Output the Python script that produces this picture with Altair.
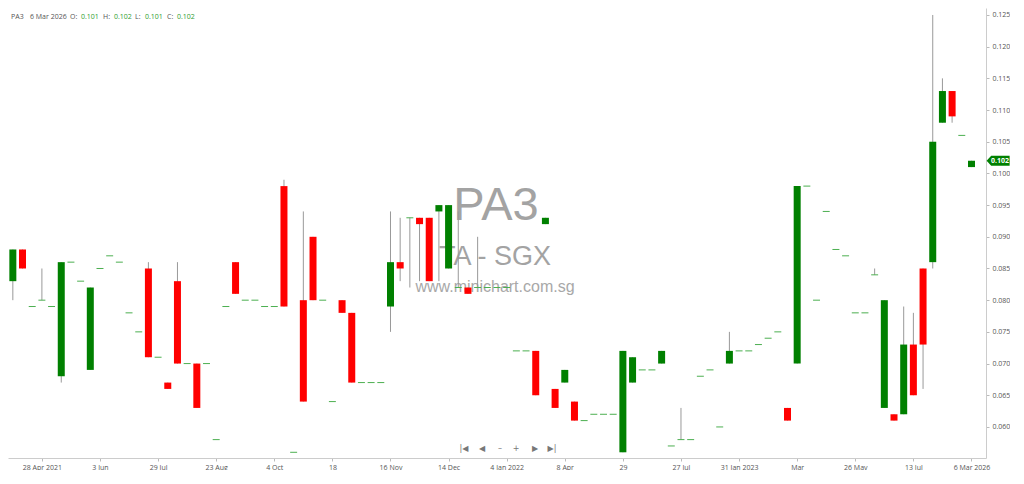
import altair as alt
import pandas as pd

# ---------------- data ----------------
opens = [
    .083, .088, .079, .080, .079, .068, .086, .083, .069, .085,
    .087, .086, .078, .075, .085, .071, .067, .083, .070, .070,
    .070, .058, .079, .086, .080, .080, .079, .079, .098, .056,
    .080, .090, .080, .064, .080, .078, .067, .067, .067, .079,
    .086, .093, .093, .093, .094, .085, .082, .082, .082, .082,
    .082, .082, .072, .072, .072, .092, .066, .067, .064, .061,
    .062, .062, .062, .056, .067, .069, .069, .070, .057, .058,
    .058, .068, .069, .060, .070, .072, .072, .073, .074, .075,
    .063, .070, .098, .080, .094, .088, .087, .078, .078, .084,
    .063, .062, .062, .073, .085, .086, .108, .113, .106, .101]
highs = [
    .088, .088, .079, .085, .079, .086, .086, .083, .082, .085,
    .087, .086, .078, .075, .086, .071, .067, .086, .070, .070,
    .070, .058, .079, .086, .080, .080, .079, .079, .099, .056,
    .094, .090, .080, .064, .080, .078, .067, .067, .067, .094,
    .093, .093, .093, .093, .095, .095, .094, .082, .090, .082,
    .082, .082, .072, .072, .072, .093, .066, .069, .064, .061,
    .062, .062, .062, .072, .071, .069, .069, .072, .057, .063,
    .058, .068, .069, .060, .075, .072, .072, .073, .074, .075,
    .063, .098, .098, .080, .094, .088, .087, .078, .078, .085,
    .080, .062, .079, .078, .085, .125, .115, .113, .106, .102]
lows = [
    .080, .085, .079, .080, .079, .067, .086, .083, .069, .085,
    .087, .086, .078, .075, .071, .071, .066, .070, .070, .063,
    .070, .058, .079, .081, .080, .080, .079, .079, .079, .056,
    .064, .080, .080, .064, .078, .067, .067, .067, .067, .075,
    .083, .082, .083, .083, .083, .085, .082, .081, .082, .082,
    .082, .082, .072, .072, .065, .092, .063, .067, .061, .061,
    .062, .062, .062, .056, .067, .069, .069, .070, .057, .058,
    .058, .068, .069, .060, .070, .072, .072, .073, .074, .075,
    .061, .070, .098, .080, .094, .088, .087, .078, .078, .084,
    .063, .061, .062, .065, .066, .085, .108, .108, .106, .101]
closes = [
    .088, .085, .079, .080, .079, .086, .086, .083, .082, .085,
    .087, .086, .078, .075, .071, .071, .066, .070, .070, .063,
    .070, .058, .079, .081, .080, .080, .079, .079, .079, .056,
    .064, .080, .080, .064, .078, .067, .067, .067, .067, .086,
    .085, .093, .092, .083, .095, .095, .082, .081, .082, .082,
    .082, .082, .072, .072, .065, .093, .063, .069, .061, .061,
    .062, .062, .062, .072, .071, .069, .069, .072, .057, .058,
    .058, .068, .069, .060, .072, .072, .072, .073, .074, .075,
    .061, .098, .098, .080, .094, .088, .087, .078, .078, .084,
    .080, .061, .073, .065, .073, .105, .113, .109, .106, .102]

tick_idx = [3, 9, 15, 21, 27, 33, 39, 45, 51, 57, 63, 69, 75, 81, 87, 93, 99]
tick_labels = ["28 Apr 2021", "3 Jun", "29 Jul", "23 Aug", "4 Oct", "18", "16 Nov",
               "14 Dec", "4 Jan 2022", "8 Apr", "29", "27 Jul", "31 Jan 2023",
               "Mar", "26 May", "13 Jul", "6 Mar 2026"]
y_ticks = [0.060, 0.065, 0.070, 0.075, 0.080, 0.085, 0.090, 0.095,
           0.100, 0.105, 0.110, 0.115, 0.120, 0.125]

symbol = "PA3"
last_date = "6 Mar 2026"

df = pd.DataFrame({"i": list(range(len(opens))), "open": opens, "high": highs,
                   "low": lows, "close": closes})

# ---------------- layout ----------------
W, H = 978, 450
FONT = "Open Sans"
GREEN = "#008000"
RED = "#ff0000"

x_scale = alt.Scale(domain=[-0.5, 100.5], nice=False, zero=False, padding=0)
y_scale = alt.Scale(domain=[0.0551, 0.1261], nice=False, zero=False, padding=0)

label_expr = "[" + ",".join("'%s'" % t for t in tick_labels) + "][round((datum.value - 3) / 6)]"

x_axis = alt.Axis(title=None, values=tick_idx, labelExpr=label_expr, grid=False,
                  labelFont=FONT, labelFontSize=7, labelColor="#555555",
                  domainColor="#cccccc", tickColor="#bbbbbb", tickSize=3,
                  labelPadding=2, labelOverlap=False, labelFlush=False)
y_axis = alt.Axis(title=None, orient="right", values=y_ticks, format=".3f", grid=False,
                  labelFont=FONT, labelFontSize=7, labelColor="#555555",
                  domainColor="#cccccc", tickColor="#bbbbbb", tickSize=3,
                  labelPadding=3, labelFlush=False, labelOverlap=False)


def X(field):
    return alt.X(field, scale=x_scale, axis=x_axis)


def Y(field):
    return alt.Y(field, scale=y_scale, axis=y_axis)


base = alt.Chart(df)

wicks = base.transform_filter("datum.high > datum.low").mark_rule(
    color="#999999", strokeWidth=1).encode(
    x=X("i:Q"), y=Y("low:Q"), y2="high:Q")

dashes = base.transform_filter("datum.open == datum.close").transform_calculate(
    x0="datum.i - 0.36", x1="datum.i + 0.36").mark_rule(
    color="#4caf50", strokeWidth=1).encode(
    x=X("x0:Q"), x2="x1:Q", y=Y("close:Q"))

bodies = base.transform_filter("datum.open != datum.close").mark_bar(size=7).encode(
    x=X("i:Q"), y=Y("open:Q"), y2="close:Q",
    color=alt.condition("datum.close > datum.open", alt.value(GREEN), alt.value(RED)))

# last price pennant on the right axis
pennant_path = "M -1 0 L -0.6 -0.43 L 1 -0.43 L 1 0.43 L -0.6 0.43 Z"
last_row = base.transform_filter("datum.i == %d" % (len(closes) - 1)).transform_calculate(
    px="datum.i + 2.75", lbl="format(datum.close, '.3f')")
pennant = last_row.mark_point(shape=pennant_path, size=529, filled=True, opacity=1,
                              color=GREEN, clip=False).encode(
    x=X("px:Q"), y=Y("close:Q"))
pennant_txt = last_row.mark_text(color="white", font=FONT, fontSize=7, fontWeight="bold",
                                 dx=2, clip=False).encode(
    x=X("px:Q"), y=Y("close:Q"), text="lbl:N")


def label(text, x, y, size, color, font=FONT, align="center", baseline="alphabetic",
          weight="normal"):
    return alt.Chart(pd.DataFrame({"t": [text]})).mark_text(
        align=align, baseline=baseline, fontSize=size, color=color, font=font,
        fontWeight=weight).encode(x=alt.value(x), y=alt.value(y), text="t:N")


# watermark
wm = [
    label(symbol, 488, 212, 47, "#a3a3a3", font="Liberation Sans"),
    label("TA - SGX", 487, 257, 27, "#a3a3a3", font="Liberation Sans"),
    label("www.minichart.com.sg", 487, 284, 16, "#a8a8a8", font="Liberation Sans"),
]
nav_items = ["|◀", "◀", "–", "+", "▶", "▶|"]
nav_x = [456, 474, 492, 508, 527, 544]
nav = [label(t, x, 441, 8, "#777777", font="DejaVu Sans", baseline="middle")
       for t, x in zip(nav_items, nav_x)]

# header
hdr_green = "#2e9e2e"
hdr_grey = "#555555"
header_items = [
    (symbol, 3, hdr_grey), (last_date, 22, hdr_grey),
    ("O:", 62, hdr_grey), ("%.3f" % opens[-1], 73, hdr_green),
    ("H:", 95, hdr_grey), ("%.3f" % highs[-1], 106, hdr_green),
    ("L:", 127, hdr_grey), ("%.3f" % lows[-1], 137, hdr_green),
    ("C:", 159, hdr_grey), ("%.3f" % closes[-1], 169, hdr_green),
]
header = [label(t, x, 9, 7, c, align="left", baseline="middle") for t, x, c in header_items]

chart = alt.layer(*wm, wicks, dashes, bodies, pennant, pennant_txt, *nav, *header).properties(
    width=W, height=H, padding=0, background="white"
).configure_view(stroke=None)

chart.save("out.html", embed_options={"renderer": "svg", "actions": False})
